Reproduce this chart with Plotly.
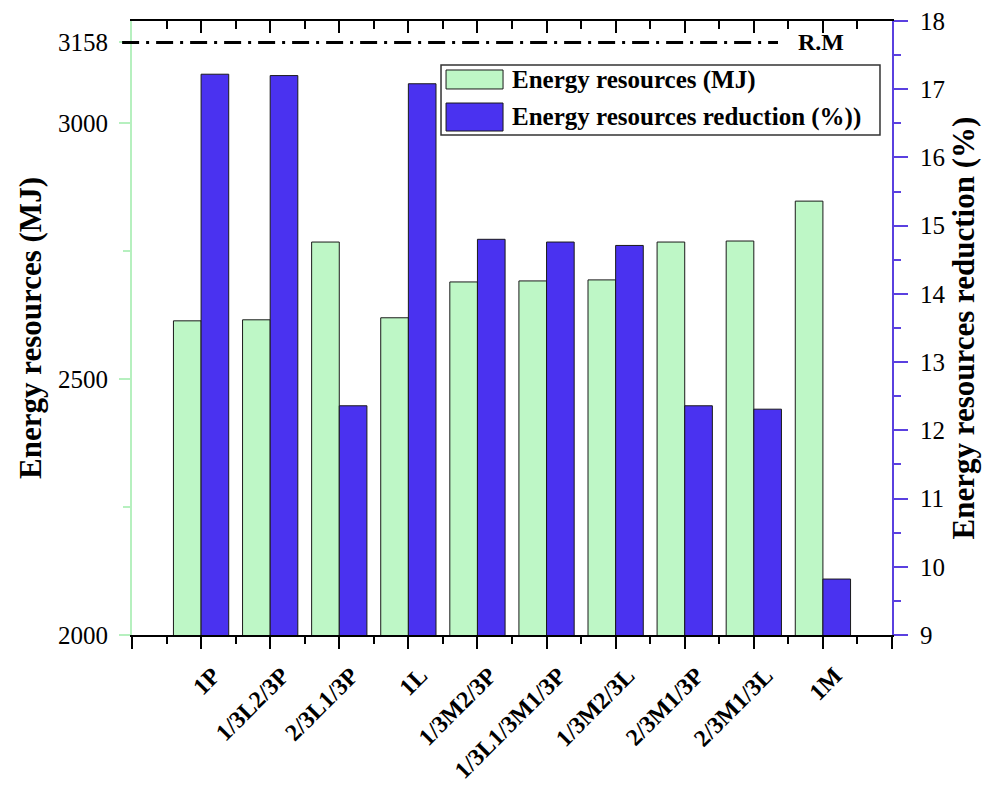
import plotly.graph_objects as go

# Mix designs on the horizontal axis
categories = ["1P", "1/3L2/3P", "2/3L1/3P", "1L", "1/3M2/3P",
              "1/3L1/3M1/3P", "1/3M2/3L", "2/3M1/3P", "2/3M1/3L", "1M"]

# Energy resources of each mix (MJ)
energy_mj = [2614, 2616, 2768, 2620, 2690, 2692, 2694, 2768, 2770, 2848]

# Reduction relative to the reference mix (%)
reduction_pct = [17.22, 17.20, 12.36, 17.08, 14.80, 14.76, 14.71, 12.36, 12.31, 9.82]

# Reference mix (R.M) energy resources (MJ)
rm_energy = 3158

legend_names = ["Energy resources (MJ)", "Energy resources reduction (%))"]

GREEN = "#bef7c6"
BLUE = "#4a32f0"
GREEN_AXIS = "#b6f0bf"
BLUE_AXIS = "#5a40e0"
FONT = "Liberation Serif"

positions = list(range(1, len(categories) + 1))
x_ticks = list(range(0, len(categories) + 2))
x_text = [""] + ["<b>" + c + "</b>" for c in categories] + [""]
x_minor = [t + 0.5 for t in x_ticks[:-1]]

fig = go.Figure()

fig.add_trace(go.Bar(
    x=positions, y=energy_mj, name=legend_names[0],
    width=0.4, offset=-0.4,
    marker=dict(color=GREEN, line=dict(color="#1a1a1a", width=1)),
    xaxis="x", yaxis="y", showlegend=False,
))
fig.add_trace(go.Bar(
    x=positions, y=reduction_pct, name=legend_names[1],
    width=0.4, offset=0.0,
    marker=dict(color=BLUE, line=dict(color="#1a1a1a", width=1)),
    xaxis="x", yaxis="y2", showlegend=False,
))
# empty trace so the mirrored top axis is drawn
fig.add_trace(go.Scatter(x=[], y=[], xaxis="x2", yaxis="y",
                         showlegend=False, hoverinfo="skip"))

tick_font = dict(family=FONT, size=25, color="black")

fig.update_layout(
    width=989, height=788,
    margin=dict(l=132, r=97, t=21, b=153),
    paper_bgcolor="white", plot_bgcolor="white",
    barmode="overlay",
    font=dict(family=FONT, color="black"),
    xaxis=dict(
        range=[0, len(categories) + 1], automargin=False,
        tickmode="array", tickvals=x_ticks, ticktext=x_text,
        tickangle=-45, ticklabelshift=12, ticklabelstandoff=3,
        tickfont=dict(family=FONT, size=24, color="black"),
        showline=True, linecolor="black", linewidth=2,
        ticks="outside", ticklen=12, tickwidth=2, tickcolor="black",
        minor=dict(tickmode="array", tickvals=x_minor, ticks="outside",
                   ticklen=7, tickwidth=2, tickcolor="black"),
        showgrid=False, zeroline=False,
    ),
    xaxis2=dict(
        overlaying="x", side="top", anchor="y", automargin=False,
        range=[0, len(categories) + 1],
        tickmode="array", tickvals=x_ticks, showticklabels=False,
        showline=True, linecolor="black", linewidth=2,
        ticks="inside", ticklen=12, tickwidth=2, tickcolor="black",
        minor=dict(tickmode="array", tickvals=x_minor, ticks="inside",
                   ticklen=8, tickwidth=2, tickcolor="black"),
        showgrid=False, zeroline=False,
    ),
    yaxis=dict(
        range=[2000, 3200], automargin=False,
        tickmode="array", tickvals=[2000, 2500, 3000, rm_energy],
        tickfont=tick_font, ticklabelstandoff=6,
        showline=True, linecolor=GREEN_AXIS, linewidth=2,
        ticks="outside", ticklen=11, tickwidth=2, tickcolor=GREEN_AXIS,
        minor=dict(tickmode="array", tickvals=[2250, 2750], ticks="outside",
                   ticklen=7, tickwidth=2, tickcolor=GREEN_AXIS),
        title=dict(text="<b>Energy resources (MJ)</b>",
                   font=dict(family=FONT, size=31, color="black"), standoff=7),
        showgrid=False, zeroline=False,
    ),
    yaxis2=dict(
        overlaying="y", side="right", anchor="x", automargin=False,
        range=[9, 18], dtick=1, tick0=9,
        tickfont=tick_font, ticklabelstandoff=7,
        showline=True, linecolor=BLUE_AXIS, linewidth=2,
        ticks="outside", ticklen=14, tickwidth=2, tickcolor=BLUE_AXIS,
        minor=dict(dtick=0.5, ticks="outside", ticklen=7, tickwidth=2,
                   tickcolor=BLUE_AXIS),
        title=dict(text="<b>Energy resources reduction (%)</b>",
                   font=dict(family=FONT, size=31, color="black"), standoff=8),
        showgrid=False, zeroline=False,
    ),
)

# reference-mix level: dash-dot line with its label
fig.add_shape(type="line", xref="paper", yref="y",
              x0=-0.013, x1=0.85, y0=rm_energy, y1=rm_energy,
              line=dict(color="black", width=3, dash="17px,7px,3px,7px"))
fig.add_annotation(xref="paper", yref="y", x=0.874, y=rm_energy,
                   xanchor="left", yanchor="middle",
                   text="<b>R.M</b>", showarrow=False,
                   font=dict(family=FONT, size=24, color="black"))

# legend box with swatches
fig.add_shape(type="rect", xref="paper", yref="paper",
              x0=0.4066, x1=0.9842, y0=0.8143, y1=0.9283,
              line=dict(color="#333333", width=1.5), fillcolor="white")
fig.add_shape(type="rect", xref="paper", yref="paper",
              x0=0.4132, x1=0.4882, y0=0.8893, y1=0.9202,
              line=dict(color="#1a1a1a", width=1), fillcolor=GREEN)
fig.add_shape(type="rect", xref="paper", yref="paper",
              x0=0.4132, x1=0.4882, y0=0.8208, y1=0.8664,
              line=dict(color="#1a1a1a", width=1), fillcolor=BLUE)
fig.add_annotation(xref="paper", yref="paper", x=0.498, y=0.904,
                   xanchor="left", yanchor="middle", showarrow=False,
                   text="<b>" + legend_names[0] + "</b>",
                   font=dict(family=FONT, size=25, color="black"))
fig.add_annotation(xref="paper", yref="paper", x=0.498, y=0.8436,
                   xanchor="left", yanchor="middle", showarrow=False,
                   text="<b>" + legend_names[1] + "</b>",
                   font=dict(family=FONT, size=25, color="black"))

fig.write_html("out.html")
